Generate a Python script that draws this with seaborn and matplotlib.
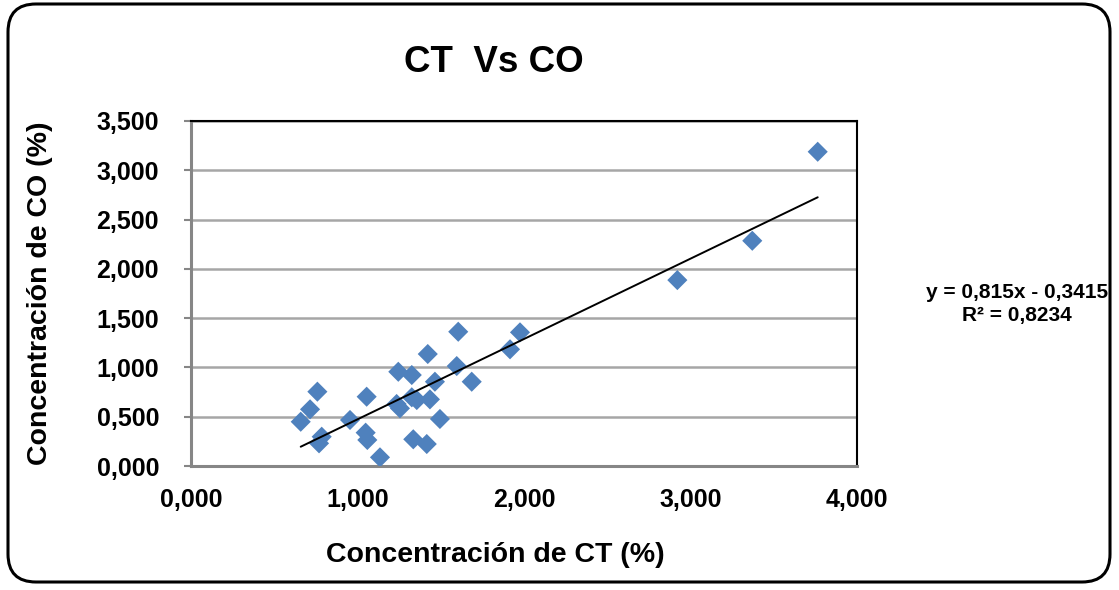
import numpy as np
import pandas as pd
import seaborn as sns
import matplotlib.pyplot as plt
from matplotlib.patches import FancyBboxPatch
from matplotlib.ticker import FuncFormatter

# CT vs CO values (%)
ct = [0.659, 0.715, 0.759, 0.785, 0.769, 0.955, 1.055, 1.049, 1.059, 1.135,
      1.245, 1.326, 1.235, 1.255, 1.326, 1.356, 1.335, 1.416, 1.422, 1.465,
      1.435, 1.495, 1.605, 1.596, 1.686, 1.916, 1.976, 2.921, 3.371, 3.764]
co = [0.449, 0.575, 0.754, 0.297, 0.230, 0.467, 0.703, 0.338, 0.264, 0.088,
      0.956, 0.923, 0.629, 0.585, 0.697, 0.669, 0.271, 0.223, 1.136, 0.855,
      0.676, 0.477, 1.362, 1.014, 0.855, 1.184, 1.356, 1.886, 2.285, 3.188]

# trendline as stated on the chart
slope = 0.815
intercept = -0.3415
r2 = 0.8234

df = pd.DataFrame({'CT': ct, 'CO': co})

sns.set_theme(style='white')
plt.rcParams['font.family'] = ['Liberation Sans', 'DejaVu Sans']
plt.rcParams['text.color'] = 'black'
plt.rcParams['axes.labelcolor'] = 'black'
plt.rcParams['xtick.color'] = 'black'
plt.rcParams['ytick.color'] = 'black'

fig = plt.figure(figsize=(11.19, 5.90), dpi=100)
ax = fig.add_axes([191 / 1119, 1 - 466 / 590, 666 / 1119, 345 / 590])

# rounded chart frame
frame = FancyBboxPatch((8 / 1119, 8 / 590), 1102 / 1119, 578 / 590,
                       boxstyle='round,pad=0,rounding_size=0.025',
                       transform=fig.transFigure, fill=False,
                       edgecolor='black', linewidth=2.2, zorder=0,
                       mutation_aspect=1119 / 590)
fig.patches.append(frame)

ax.set_xlim(0, 4)
ax.set_ylim(0, 3.5)
ax.set_xticks(np.arange(0, 4.01, 1.0))
ax.set_yticks(np.arange(0, 3.51, 0.5))
ax.yaxis.grid(True, color='#a6a6a6', linewidth=1.8)
ax.set_axisbelow(True)

sns.scatterplot(data=df, x='CT', y='CO', marker='D', s=105,
                color='#4f81bd', edgecolor='none', ax=ax, zorder=3)

xl = np.array([min(ct), max(ct)])
ax.plot(xl, slope * xl + intercept, color='black', linewidth=1.4, zorder=4)

fmt = FuncFormatter(lambda v, p: f'{v:.3f}'.replace('.', ','))
ax.xaxis.set_major_formatter(fmt)
ax.yaxis.set_major_formatter(fmt)
ax.tick_params(axis='both', labelsize=18, labelcolor='black')
for lab in ax.get_xticklabels() + ax.get_yticklabels():
    lab.set_fontweight('bold')
ax.tick_params(axis='y', length=5, width=1.5, color='#868686', direction='out', pad=18, left=True)
ax.tick_params(axis='x', length=0, pad=16)

for side in ['left', 'bottom']:
    ax.spines[side].set_color('#868686')
    ax.spines[side].set_linewidth(2.2)
for side in ['top', 'right']:
    ax.spines[side].set_color('black')
    ax.spines[side].set_linewidth(1.5)

ax.set_xlabel('Concentración de CT (%)', fontsize=20.5, fontweight='bold')
ax.set_ylabel('Concentración de CO (%)', fontsize=20.5, fontweight='bold')
ax.xaxis.label.set_va('center')
ax.yaxis.label.set_va('center')
ax.xaxis.set_label_coords((495 - 191) / 666, (466 - 555) / 345)
ax.yaxis.set_label_coords((40 - 191) / 666, (466 - 293) / 345)

fig.text(494 / 1119, 1 - 62 / 590, 'CT  Vs CO', fontsize=26.5, fontweight='bold',
         ha='center', va='center')
eq = f'y = {slope:.3f}x - {abs(intercept):.4f}'.replace('.', ',')
fig.text(1017 / 1119, 1 - 292 / 590, eq, fontsize=15, fontweight='bold',
         ha='center', va='center')
fig.text(1017 / 1119, 1 - 315 / 590, f'R² = {r2:.4f}'.replace('.', ','),
         fontsize=15, fontweight='bold', ha='center', va='center')

fig.savefig('out.png', dpi=100, facecolor='white')
